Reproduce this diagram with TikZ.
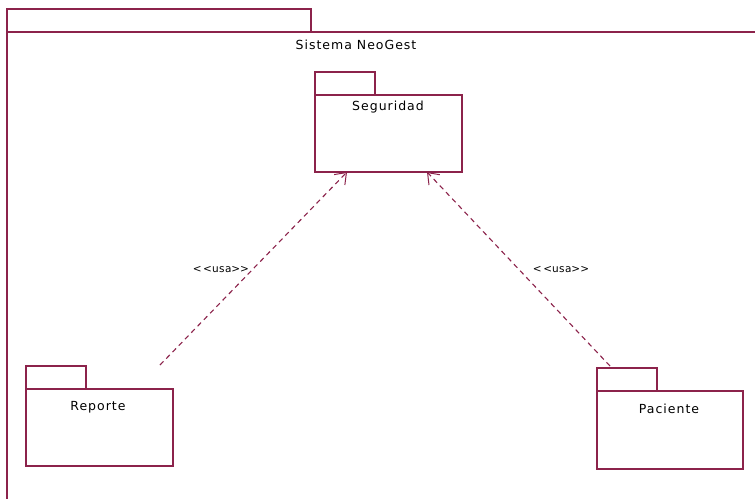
\documentclass[tikz,border=0pt]{standalone}
\usepackage{fontspec}
\setmainfont{DejaVu Sans}[LetterSpace=8]
\newfontfamily\stereofont{DejaVu Sans}[LetterSpace=4]
\usetikzlibrary{arrows.meta}
\definecolor{pkgline}{RGB}{140,35,75}
\tikzset{
  pkgbody/.style={draw=pkgline, line width=1.4pt, fill=white, inner sep=0pt},
  pkgtab/.style={draw=pkgline, line width=1.4pt, fill=white, inner sep=0pt},
  pkgname/.style={font=\fontsize{12.5}{14}\selectfont, text=black, inner sep=0pt},
  usesdep/.style={draw=pkgline, line width=1.1pt, dash pattern=on 5pt off 4pt,
    -{Straight Barb[length=10pt,width=15pt,line width=1pt]}},
  stereo/.style={font=\stereofont\fontsize{10.5}{12}\selectfont, text=black, inner sep=0pt},
}
\newcommand{\usesstereo}{<\kern1.5pt<\kern0pt usa\kern0pt>\kern0pt>}
\begin{document}
\begin{tikzpicture}[x=1pt,y=-1pt]
  \useasboundingbox (0,0) rectangle (755,498);
  \clip (0,0) rectangle (755,498);
  \fill[white] (0,0) rectangle (755,498);

  % enclosing package: tab and body running past the page edges
  \draw[pkgtab] (7,9) rectangle (311,32);
  \draw[pkgbody] (7,32) rectangle (765,510);
  \node[pkgname] (sys) at (356,45) {Sistema NeoGest};

  % Seguridad
  \draw[pkgtab] (315,72) rectangle (375,95);
  \draw[pkgbody] (315,95) rectangle (462,172);
  \node[pkgname] (segname) at (388,107) {Seguridad};
  \coordinate (segA) at (347,172);
  \coordinate (segB) at (427,172);

  % Reporte
  \draw[pkgtab] (26,366) rectangle (86,389);
  \draw[pkgbody] (26,389) rectangle (173,466);
  \node[pkgname] (repname) at (98,407) {Reporte};
  \coordinate (repA) at (160,365);

  % Paciente
  \draw[pkgtab] (597,368) rectangle (657,391);
  \draw[pkgbody] (597,391) rectangle (743,469);
  \node[pkgname] (pacname) at (669,409) {Paciente};
  \coordinate (pacA) at (610,366);

  % dependencies
  \draw[usesdep] (repA) -- (segA);
  \draw[usesdep] (pacA) -- (segB);
  \node[stereo] (usa1) at (221,270) {\usesstereo};
  \node[stereo] (usa2) at (561,270) {\usesstereo};
\end{tikzpicture}
\end{document}
